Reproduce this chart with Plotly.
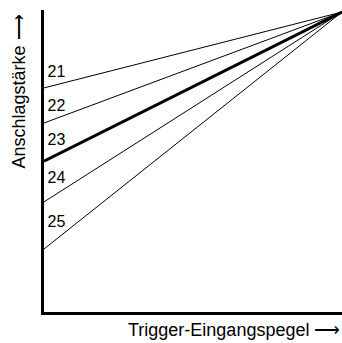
import plotly.graph_objects as go

# velocity curve numbers and where each line starts on the left axis
curve_names = ["21", "22", "23", "24", "25"]
start_levels = [74.7, 63.0, 50.3, 36.7, 21.0]
end_level = 100.0
label_levels = [79.8, 68.5, 57.0, 44.5, 29.7]
line_widths = [1, 1, 3, 1, 1]

y_title = "Anschlagstärke ⟶"
x_title = "Trigger-Eingangspegel ⟶"

fig = go.Figure()

for name, y0, w in zip(curve_names, start_levels, line_widths):
    fig.add_trace(go.Scatter(x=[0, 1], y=[y0, end_level], mode="lines",
                             line=dict(color="black", width=w), name=name,
                             hoverinfo="skip"))

fig.add_trace(go.Scatter(x=[0.012] * len(curve_names), y=label_levels,
                         mode="text", text=curve_names, textposition="middle right",
                         textfont=dict(size=16, color="black"), hoverinfo="skip"))

fig.update_layout(
    width=342, height=343,
    margin=dict(l=44, r=0, t=10, b=31),
    paper_bgcolor="white", plot_bgcolor="white",
    showlegend=False,
    font=dict(family="Liberation Sans, Arial, sans-serif", color="black"),
    xaxis=dict(range=[0, 1], showline=True, linecolor="black", linewidth=2.5,
               showgrid=False, zeroline=False, showticklabels=False, ticks=""),
    yaxis=dict(range=[0, 100.67], showline=True, linecolor="black", linewidth=2.5,
               showgrid=False, zeroline=False, showticklabels=False, ticks=""),
    annotations=[
        dict(text=y_title, xref="paper", yref="paper", x=-0.084, y=0.73,
             xanchor="center", yanchor="middle", textangle=-90, showarrow=False,
             font=dict(size=18)),
        dict(text=x_title, xref="paper", yref="paper", x=0.636, y=-0.058,
             xanchor="center", yanchor="middle", showarrow=False,
             font=dict(size=18)),
    ],
)

# drop the browser's default body margin so the figure sits at the page corner
fig.write_html("out.html", config={"displayModeBar": False},
               post_script="document.body.style.margin = '0';")
